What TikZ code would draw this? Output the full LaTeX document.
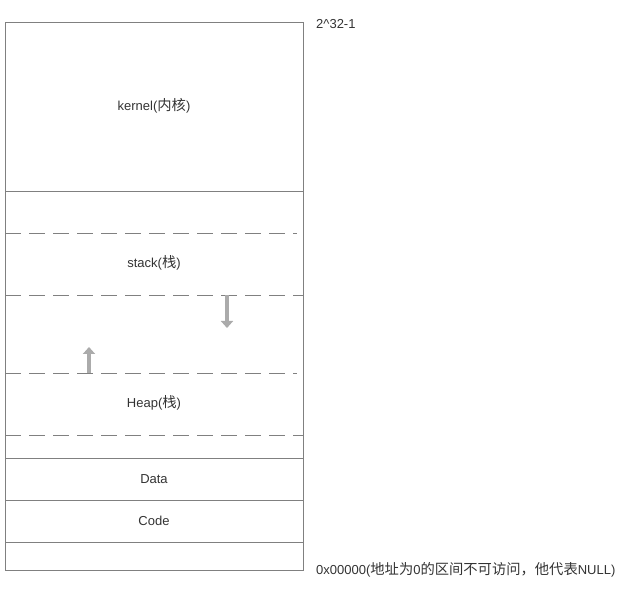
\documentclass[tikz,border=0pt]{standalone}
\usepackage{fontspec}
\setmainfont{Liberation Sans}
\newfontfamily\cjk[Scale=1.1]{Noto Sans CJK SC}
\usetikzlibrary{arrows.meta}
\definecolor{linegray}{HTML}{808080}
\definecolor{arrowgray}{HTML}{ABABAB}
\definecolor{textgray}{HTML}{333333}
\tikzset{
  seg/.style={draw=linegray, line width=0.9pt},
  segdash/.style={seg, dash pattern=on 16pt off 8pt},
  growarrow/.style={draw=arrowgray, line width=3.4pt, -{Triangle[length=7pt,width=12pt]}},
  lbl/.style={font=\fontsize{13}{15}\selectfont, text=textgray, inner sep=0pt},
}
\begin{document}
\begin{tikzpicture}[x=1pt, y=-1pt]
  \useasboundingbox (0,0) rectangle (633,591);
  % memory column
  \draw[seg] (5,22) rectangle (303,570);
  \foreach \y in {191,458,500,542}
    \draw[seg] (5,\y) -- (303,\y);
  \foreach \y/\r in {233/297,295/303,373/297,435/303}
    \draw[segdash] (5,\y) -- (\r,\y);
  % labels
  \node[lbl] (kernel) at (154,106) {kernel({\cjk 内核})};
  \node[lbl] (stack) at (154,263) {stack({\cjk 栈})};
  \node[lbl] (heap) at (154,403) {Heap({\cjk 栈})};
  \node[lbl] (data) at (154,479) {Data};
  \node[lbl] (code) at (154,521) {Code};
  \node[lbl, anchor=west] (top) at (316,24) {2\textasciicircum 32-1};
  \node[lbl, anchor=west] (bottom) at (316,570) {0x00000({\cjk 地址为}0{\cjk 的区间不可访问，他代表}NULL)};
  % growth directions
  \coordinate (stackfrom) at (227,295);
  \coordinate (stackto) at (227,328);
  \coordinate (heapfrom) at (89,373);
  \coordinate (heapto) at (89,347);
  \draw[growarrow] (stackfrom) -- (stackto);
  \draw[growarrow] (heapfrom) -- (heapto);
\end{tikzpicture}
\end{document}
